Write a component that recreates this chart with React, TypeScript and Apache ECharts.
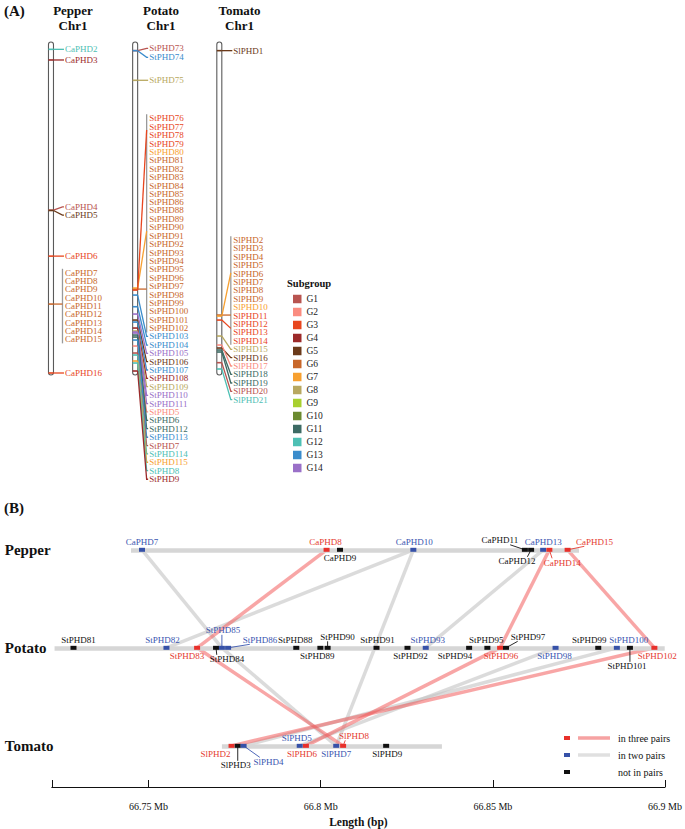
import React, { useEffect, useRef } from 'react';
import * as echarts from 'echarts';

const FONT = 'Liberation Serif, Times New Roman, serif';

// ---------- Panel A data ----------
const subgroups = ['G1', 'G2', 'G3', 'G4', 'G5', 'G6', 'G7', 'G8', 'G9', 'G10', 'G11', 'G12', 'G13', 'G14'];
const subgroupColors = ['#b85450', '#fa8c80', '#e8461e', '#9c2a2a', '#6b3a1a', '#c8672a', '#f7a030', '#b8a860', '#a8d030', '#6b8a30', '#3d6b64', '#4ec0b4', '#3a8ccc', '#9a70c8'];
const chromosomes = ['Pepper', 'Potato', 'Tomato'];
const chromLength = [100, 100, 100]; // relative length (%)

const pepperGenesA = ['CaPHD2', 'CaPHD3', 'CaPHD4', 'CaPHD5', 'CaPHD6', 'CaPHD7', 'CaPHD8', 'CaPHD9', 'CaPHD10', 'CaPHD11', 'CaPHD12', 'CaPHD13', 'CaPHD14', 'CaPHD15', 'CaPHD16'];
const pepperGroupA = [12, 4, 1, 5, 3, 6, 6, 6, 6, 6, 6, 6, 6, 6, 3];
const pepperPosA = [2.2, 5.4, 50.5, 50.6, 64.3, 78.7, 78.7, 78.7, 78.7, 78.7, 78.7, 78.7, 78.7, 78.7, 99.4];
const pepperLabelA = [2.2, 5.4, 49.5, 52.0, 64.3, 69.3, 71.8, 74.3, 76.8, 79.3, 81.8, 84.3, 86.8, 89.3, 99.4];

const potatoGenesA = ['StPHD73', 'StPHD74', 'StPHD75', 'StPHD76', 'StPHD77', 'StPHD78', 'StPHD79', 'StPHD80', 'StPHD81', 'StPHD82', 'StPHD83', 'StPHD84', 'StPHD85', 'StPHD86', 'StPHD88', 'StPHD89', 'StPHD90', 'StPHD91', 'StPHD92', 'StPHD93', 'StPHD94', 'StPHD95', 'StPHD96', 'StPHD97', 'StPHD98', 'StPHD99', 'StPHD100', 'StPHD101', 'StPHD102', 'StPHD103', 'StPHD104', 'StPHD105', 'StPHD106', 'StPHD107', 'StPHD108', 'StPHD109', 'StPHD110', 'StPHD111', 'StPHD5', 'StPHD6', 'StPHD112', 'StPHD113', 'StPHD7', 'StPHD114', 'StPHD115', 'StPHD8', 'StPHD9'];
const potatoGroupA = [1, 13, 8, 3, 3, 3, 3, 7, 6, 6, 6, 6, 6, 6, 6, 6, 6, 6, 6, 6, 6, 6, 6, 6, 6, 6, 6, 6, 6, 13, 13, 14, 5, 13, 4, 8, 14, 14, 2, 11, 11, 13, 1, 12, 7, 12, 4];
const potatoPosA = [2.6, 2.6, 11.5, 74.5, 74.5, 74.5, 74.5, 74.5, 74.5, 74.5, 74.5, 74.5, 74.5, 74.5, 74.5, 74.5, 74.5, 74.5, 74.5, 74.5, 74.5, 74.5, 74.5, 74.5, 74.5, 74.5, 74.5, 74.5, 74.5, 76.0, 79.5, 81.7, 83.5, 84.1, 85.9, 86.8, 87.1, 87.4, 91.3, 88.0, 88.6, 89.5, 93.4, 94.0, 95.8, 96.4, 98.8];
const potatoLabelA = [1.9, 4.6, 11.5, 22.9, 25.4, 27.9, 30.5, 33.0, 35.5, 38.0, 40.6, 43.1, 45.6, 48.1, 50.6, 53.2, 55.7, 58.2, 60.7, 63.3, 65.8, 68.3, 70.8, 73.4, 75.9, 78.4, 80.9, 83.5, 86.0, 88.4, 91.0, 93.5, 96.0, 98.5, 101.0, 103.5, 106.1, 108.6, 111.1, 113.6, 116.1, 118.7, 121.2, 123.7, 126.2, 128.7, 131.3];

const tomatoGenesA = ['SlPHD1', 'SlPHD2', 'SlPHD3', 'SlPHD4', 'SlPHD5', 'SlPHD6', 'SlPHD7', 'SlPHD8', 'SlPHD9', 'SlPHD10', 'SlPHD11', 'SlPHD12', 'SlPHD13', 'SlPHD14', 'SlPHD15', 'SlPHD16', 'SlPHD17', 'SlPHD18', 'SlPHD19', 'SlPHD20', 'SlPHD21'];
const tomatoGroupA = [5, 6, 6, 6, 6, 6, 6, 6, 6, 7, 3, 3, 3, 3, 8, 5, 2, 11, 11, 1, 12];
const tomatoPosA = [2.6, 82.3, 82.3, 82.3, 82.3, 82.3, 82.3, 82.3, 82.3, 82.3, 83.5, 83.5, 83.5, 83.5, 88.3, 91.9, 91.0, 92.5, 93.1, 96.3, 98.2];
const tomatoLabelA = [2.6, 59.5, 62.0, 64.5, 67.0, 69.6, 72.1, 74.6, 77.1, 79.7, 82.2, 84.7, 87.2, 89.7, 92.3, 94.8, 97.3, 99.8, 102.4, 104.9, 107.4];

// label brackets: [chromosome, first gene, last gene]
const brackets: [number, string, string][] = [[0, 'CaPHD7', 'CaPHD15'], [1, 'StPHD76', 'StPHD102'], [2, 'SlPHD2', 'SlPHD14']];
// links from chromosome to bracket: [chromosome, position, bracket hit, subgroup]
const bracketLinks: [number, number, number, number][] = [[0, 78.7, 78.7, 6], [1, 74.2, 74.2, 6], [1, 73.9, 56.8, 7], [1, 74.5, 26.4, 3], [2, 82.0, 82.0, 6], [2, 82.3, 69.3, 7], [2, 83.5, 86.0, 3]];

// ---------- Panel B data ----------
const trackNames = ['Pepper', 'Potato', 'Tomato'];
const trackLevels = [3, 2, 1];
const trackStart = [66.7449, 66.7227, 66.7713];
const trackEnd = [66.8750, 66.8999, 66.8352];

const pepperGenesB = ['CaPHD7', 'CaPHD8', 'CaPHD9', 'CaPHD10', 'CaPHD11', 'CaPHD12', 'CaPHD13', 'CaPHD14', 'CaPHD15'];
const pepperPosB = [66.7481, 66.8017, 66.8056, 66.8269, 66.8593, 66.8611, 66.8646, 66.8664, 66.8717];
const pepperPairsB = [2, 3, 1, 2, 1, 1, 2, 3, 3];

const potatoGenesB = ['StPHD81', 'StPHD82', 'StPHD83', 'StPHD84', 'StPHD85', 'StPHD86', 'StPHD88', 'StPHD89', 'StPHD90', 'StPHD91', 'StPHD92', 'StPHD93', 'StPHD94', 'StPHD95', 'StPHD96', 'StPHD97', 'StPHD98', 'StPHD99', 'StPHD100', 'StPHD101', 'StPHD102'];
const potatoPosB = [66.7282, 66.7552, 66.7641, 66.7696, 66.7713, 66.7731, 66.7929, 66.7999, 66.8020, 66.8162, 66.8252, 66.8305, 66.8431, 66.8484, 66.8521, 66.8538, 66.8682, 66.8806, 66.8860, 66.8898, 66.8969];
const potatoPairsB = [1, 2, 3, 1, 2, 2, 1, 1, 1, 1, 1, 2, 1, 1, 3, 1, 2, 1, 2, 1, 3];

const tomatoGenesB = ['SlPHD2', 'SlPHD3', 'SlPHD4', 'SlPHD5', 'SlPHD6', 'SlPHD7', 'SlPHD8', 'SlPHD9'];
const tomatoPosB = [66.7741, 66.7759, 66.7776, 66.7939, 66.7957, 66.8045, 66.8065, 66.8190];
const tomatoPairsB = [3, 1, 2, 2, 3, 2, 3, 1];

const syntenyPairs: [string, string][] = [
  ['CaPHD7', 'StPHD85'], ['CaPHD10', 'StPHD82'], ['CaPHD10', 'SlPHD7'], ['CaPHD13', 'StPHD93'],
  ['StPHD85', 'SlPHD7'], ['StPHD98', 'SlPHD5'], ['StPHD100', 'SlPHD4'],
  ['CaPHD8', 'StPHD83'], ['CaPHD14', 'StPHD96'], ['CaPHD15', 'StPHD102'],
  ['StPHD83', 'SlPHD8'], ['StPHD96', 'SlPHD6'], ['StPHD102', 'SlPHD2'],
];

const axisTicks = [66.7219, 66.75, 66.8, 66.85, 66.9];
const axisLabels = [66.75, 66.8, 66.85, 66.9];

// label placement (layout only): [dx, dy, leader line]
const labelOffsetsB: Record<string, [number, number, number]> = {
  CaPHD7: [0, -8, 0], CaPHD8: [-1, -8, 0], CaPHD9: [0, 8.5, 0], CaPHD10: [1, -8, 0],
  CaPHD11: [-25, -9.5, 1], CaPHD12: [-14, 11.5, 1], CaPHD13: [0, -8, 0], CaPHD14: [13, 13, 1], CaPHD15: [27, -8, 1],
  StPHD81: [5, -8, 0], StPHD82: [-4, -8, 0], StPHD83: [-10, 8.5, 0], StPHD84: [11, 11.5, 1], StPHD85: [1, -17.5, 1],
  StPHD86: [32, -8, 1], StPHD88: [-1, -8, 0], StPHD89: [-3, 8.5, 0], StPHD90: [10, -11, 1], StPHD91: [1, -8, 0],
  StPHD92: [3, 8.5, 0], StPHD93: [2, -8, 0], StPHD94: [-14, 8.5, 0], StPHD95: [-1, -8, 0], StPHD96: [1, 8.5, 0],
  StPHD97: [22, -11, 1], StPHD98: [-1, 8.5, 0], StPHD99: [-9, -8, 0], StPHD100: [12, -8, 0], StPHD101: [-3, 18.5, 1],
  StPHD102: [3, 8.5, 0],
  SlPHD2: [-16, 8.5, 0], SlPHD3: [-2, 19.5, 1], SlPHD4: [25, 16, 1], SlPHD5: [-3, -8, 0], SlPHD6: [-4, 8.5, 0],
  SlPHD7: [0, 8.5, 0], SlPHD8: [11, -10, 1], SlPHD9: [1, 8.5, 0],
};

const pairColors = ['#111111', '#3651a8', '#e8302a'];
const pairTextColors = ['#111111', '#3a56b0', '#e53a2f'];

type GeneA = { chrom: number; name: string; group: number; pos: number; label: number; inBracket: boolean };
type GeneB = { name: string; x: number; level: number; pairs: number };

function buildGenesA(): GeneA[] {
  const lists = [
    [pepperGenesA, pepperGroupA, pepperPosA, pepperLabelA],
    [potatoGenesA, potatoGroupA, potatoPosA, potatoLabelA],
    [tomatoGenesA, tomatoGroupA, tomatoPosA, tomatoLabelA],
  ] as [string[], number[], number[], number[]][];
  const out: GeneA[] = [];
  lists.forEach(([names, groups, pos, labels], c) => {
    const br = brackets.find((b) => b[0] === c);
    const i0 = br ? names.indexOf(br[1]) : -1;
    const i1 = br ? names.indexOf(br[2]) : -1;
    names.forEach((n, i) => {
      out.push({ chrom: c, name: n, group: groups[i], pos: pos[i], label: labels[i], inBracket: i >= i0 && i <= i1 && i0 >= 0 });
    });
  });
  return out;
}

function buildGenesB(): GeneB[] {
  const out: GeneB[] = [];
  const lists = [
    [pepperGenesB, pepperPosB, pepperPairsB],
    [potatoGenesB, potatoPosB, potatoPairsB],
    [tomatoGenesB, tomatoPosB, tomatoPairsB],
  ] as [string[], number[], number[]][];
  lists.forEach(([names, pos, pairs], t) => {
    names.forEach((n, i) => out.push({ name: n, x: pos[i], level: trackLevels[t], pairs: pairs[i] }));
  });
  return out;
}

function buildOption() {
  const genesA = buildGenesA();
  const genesB = buildGenesB();
  const byName: Record<string, GeneB> = {};
  genesB.forEach((g) => (byName[g.name] = g));
  const labelOfA = (chrom: number, name: string) => genesA.find((g) => g.chrom === chrom && g.name === name)!.label;

  const chromSeries = {
    type: 'custom',
    xAxisIndex: 0,
    yAxisIndex: 0,
    clip: false,
    silent: true,
    z: 2,
    data: chromLength.map((len, i) => [i, 0, len]),
    renderItem: (params: any, api: any) => {
      const top = api.coord([api.value(0), api.value(1)]);
      const bot = api.coord([api.value(0), api.value(2)]);
      return {
        type: 'rect',
        shape: { x: top[0] - 2.5, y: top[1], width: 5, height: bot[1] - top[1], r: 2.5 },
        style: { fill: '#ffffff', stroke: '#5a5a5a', lineWidth: 1.1 },
      };
    },
  };

  const bracketSeries = {
    type: 'custom',
    xAxisIndex: 0,
    yAxisIndex: 0,
    clip: false,
    silent: true,
    z: 3,
    data: brackets.map((b) => [b[0], labelOfA(b[0], b[1]), labelOfA(b[0], b[2])]),
    renderItem: (params: any, api: any) => {
      const a = api.coord([api.value(0), api.value(1)]);
      const b = api.coord([api.value(0), api.value(2)]);
      return {
        type: 'line',
        shape: { x1: a[0] + 11.5, y1: a[1] - 4, x2: a[0] + 11.5, y2: b[1] + 4 },
        style: { stroke: '#9a9a9a', lineWidth: 1.3 },
      };
    },
  };

  const bracketLinkSeries = {
    type: 'custom',
    xAxisIndex: 0,
    yAxisIndex: 0,
    clip: false,
    silent: true,
    z: 4,
    data: bracketLinks.map((l) => [l[0], l[1], l[2], l[3]]),
    renderItem: (params: any, api: any) => {
      const p = api.coord([api.value(0), api.value(1)]);
      const h = api.coord([api.value(0), api.value(2)]);
      const color = subgroupColors[api.value(3) - 1];
      return {
        type: 'group',
        children: [
          { type: 'line', shape: { x1: p[0] - 2.5, y1: p[1], x2: p[0] + 2.5, y2: p[1] }, style: { stroke: color, lineWidth: 1.6 } },
          { type: 'line', shape: { x1: p[0] + 2.5, y1: p[1], x2: p[0] + 11.5, y2: h[1] }, style: { stroke: color, lineWidth: 1.3 } },
        ],
      };
    },
  };

  const geneSeriesA = {
    type: 'custom',
    xAxisIndex: 0,
    yAxisIndex: 0,
    clip: false,
    silent: true,
    z: 5,
    data: genesA.map((g) => [g.chrom, g.pos, g.label]),
    renderItem: (params: any, api: any) => {
      const g = genesA[params.dataIndex];
      const p = api.coord([g.chrom, g.pos]);
      const l = api.coord([g.chrom, g.label]);
      const color = subgroupColors[g.group - 1];
      const children: any[] = [];
      if (!g.inBracket) {
        children.push({ type: 'line', shape: { x1: p[0] - 2.5, y1: p[1], x2: p[0] + 2.5, y2: p[1] }, style: { stroke: color, lineWidth: 1.6 } });
        children.push({
          type: 'polyline',
          shape: { points: [[p[0] + 2.5, p[1]], [p[0] + 11.5, l[1]], [p[0] + 13, l[1]]] },
          style: { stroke: color, lineWidth: 1.3, fill: null },
        });
      }
      children.push({
        type: 'text',
        style: { text: g.name, x: p[0] + 14, y: l[1], fill: color, fontSize: 9, lineHeight: 8, fontFamily: FONT, align: 'left', verticalAlign: 'middle' },
      });
      return { type: 'group', children };
    },
  };

  const legendSeries = subgroups.map((s, i) => ({
    type: 'scatter',
    name: s,
    xAxisIndex: 0,
    yAxisIndex: 0,
    data: [],
    itemStyle: { color: subgroupColors[i], opacity: 1 },
  }));

  // Panel B
  const linkData = syntenyPairs.map(([a, b]) => {
    const ga = byName[a];
    const gb = byName[b];
    const red = ga.pairs === 3 && gb.pairs === 3;
    return {
      coords: [[ga.x, ga.level], [gb.x, gb.level]],
      lineStyle: { color: red ? 'rgba(242,92,92,0.55)' : 'rgba(195,195,195,0.6)' },
    };
  });

  const linkSeries = {
    type: 'lines',
    coordinateSystem: 'cartesian2d',
    xAxisIndex: 1,
    yAxisIndex: 1,
    silent: true,
    z: 1,
    lineStyle: { width: 3.5, opacity: 1 },
    data: linkData,
  };

  const trackSeries = {
    type: 'lines',
    coordinateSystem: 'cartesian2d',
    xAxisIndex: 1,
    yAxisIndex: 1,
    silent: true,
    z: 2,
    lineStyle: { width: 4.5, color: '#d6d6d6', opacity: 1 },
    data: trackNames.map((n, i) => ({ coords: [[trackStart[i], trackLevels[i]], [trackEnd[i], trackLevels[i]]] })),
  };

  const markerSeries = {
    type: 'custom',
    xAxisIndex: 1,
    yAxisIndex: 1,
    clip: false,
    silent: true,
    z: 3,
    data: genesB.map((g) => [g.x, g.level]),
    renderItem: (params: any, api: any) => {
      const g = genesB[params.dataIndex];
      const p = api.coord([g.x, g.level]);
      const off = labelOffsetsB[g.name] || [0, -8, 0];
      const lx = p[0] + off[0];
      const ly = p[1] + off[1];
      const color = pairColors[g.pairs - 1];
      const tcolor = pairTextColors[g.pairs - 1];
      const children: any[] = [];
      if (off[2]) {
        const w = g.name.length * 4.9;
        const ex = lx - Math.sign(off[0]) * Math.min(Math.abs(off[0]), w * 0.3);
        const ey = ly - Math.sign(off[1]) * 4.5;
        children.push({ type: 'line', shape: { x1: p[0], y1: p[1], x2: ex, y2: ey }, style: { stroke: tcolor, lineWidth: 0.9 } });
      }
      children.push({ type: 'rect', shape: { x: p[0] - 3, y: p[1] - 2, width: 6, height: 4 }, style: { fill: color } });
      children.push({
        type: 'text',
        style: { text: g.name, x: lx, y: ly, fill: tcolor, fontSize: 9, lineHeight: 8, fontFamily: FONT, align: 'center', verticalAlign: 'middle' },
      });
      return { type: 'group', children };
    },
  };

  const headText = (text: string, x: number, y: number, size: number, align = 'left') => ({
    type: 'text',
    x,
    y,
    silent: true,
    style: { text, fill: '#111', fontFamily: FONT, fontWeight: 'bold', fontSize: size, lineHeight: size + 2, align, verticalAlign: 'top' },
  });

  const legendB = [
    { label: 'in three pairs', marker: pairColors[2], line: '#f6a2a2', y: 738 },
    { label: 'in two pairs', marker: pairColors[1], line: '#e0e0e0', y: 755 },
    { label: 'not in pairs', marker: pairColors[0], line: null, y: 772 },
  ];
  const legendBGraphics: any[] = [];
  legendB.forEach((it) => {
    legendBGraphics.push({ type: 'rect', silent: true, shape: { x: 564, y: it.y - 2, width: 6, height: 4 }, style: { fill: it.marker } });
    if (it.line) legendBGraphics.push({ type: 'line', silent: true, shape: { x1: 578, y1: it.y, x2: 610, y2: it.y }, style: { stroke: it.line, lineWidth: 3.5 } });
    legendBGraphics.push({ type: 'text', silent: true, x: 618, y: it.y, style: { text: it.label, fill: '#111', fontFamily: FONT, fontSize: 10, verticalAlign: 'middle' } });
  });

  return {
    animation: false,
    backgroundColor: '#ffffff',
    textStyle: { fontFamily: FONT },
    grid: [
      { left: 8.9, top: 42, width: 252.5, height: 333 },
      { left: 51.8, right: 16.2, top: 500.8, bottom: 41 },
    ],
    xAxis: [
      { type: 'category', gridIndex: 0, data: chromosomes, show: false },
      {
        type: 'value',
        gridIndex: 1,
        min: 66.7219,
        max: 66.9,
        axisLine: { show: true, lineStyle: { color: '#111', width: 1 } },
        axisTick: { show: true, inside: true, length: 7, customValues: axisTicks, lineStyle: { color: '#111', width: 1 } },
        axisLabel: { show: true, customValues: axisLabels, formatter: (v: number) => `${v} Mb`, color: '#111', fontFamily: FONT, fontSize: 10, margin: 14 },
        splitLine: { show: false },
        name: 'Length (bp)',
        nameLocation: 'middle',
        nameGap: 29,
        nameTextStyle: { color: '#111', fontFamily: FONT, fontWeight: 'bold', fontSize: 11.5 },
      },
    ],
    yAxis: [
      { type: 'value', gridIndex: 0, min: 0, max: 100, inverse: true, show: false },
      {
        type: 'value',
        gridIndex: 1,
        min: 0.58,
        max: 3.5,
        axisLine: { show: false },
        axisTick: { show: false },
        splitLine: { show: false },
        axisLabel: {
          show: true,
          customValues: [1, 2, 3],
          formatter: (v: number) => trackNames[trackLevels.indexOf(Math.round(v))],
          align: 'left',
          margin: 47,
          color: '#111',
          fontFamily: FONT,
          fontWeight: 'bold',
          fontSize: 15,
        },
      },
    ],
    legend: {
      data: subgroups,
      orient: 'vertical',
      left: 293,
      top: 294,
      padding: 0,
      itemWidth: 8.5,
      itemHeight: 8.5,
      itemGap: 3,
      icon: 'rect',
      selectedMode: false,
      itemStyle: { opacity: 1 },
      textStyle: { fontFamily: FONT, fontSize: 9.5, color: '#222', lineHeight: 10 },
    },
    graphic: [
      headText('(A)', 4, 2, 15),
      headText('(B)', 4, 499, 15),
      headText('Pepper\nChr1', 73, 2.5, 13, 'center'),
      headText('Potato\nChr1', 161, 2.5, 13, 'center'),
      headText('Tomato\nChr1', 239.5, 2.5, 13, 'center'),
      headText('Subgroup', 287, 277, 10.5),
      ...legendBGraphics,
    ],
    series: [chromSeries, bracketSeries, bracketLinkSeries, geneSeriesA, ...legendSeries, linkSeries, trackSeries, markerSeries],
  };
}

export default function App() {
  const ref = useRef<HTMLDivElement>(null);
  useEffect(() => {
    document.body.style.margin = '0';
    const chart = echarts.init(ref.current!, null, { renderer: 'svg' });
    chart.setOption(buildOption() as any);
    return () => chart.dispose();
  }, []);
  return <div ref={ref} style={{ width: 685, height: 829 }} />;
}
